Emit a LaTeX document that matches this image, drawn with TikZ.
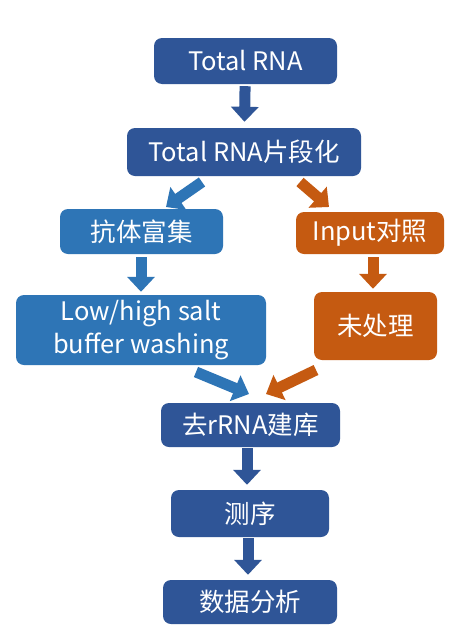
\documentclass[tikz,border=0pt]{standalone}
\usepackage{fontspec}
\setmainfont{Noto Sans CJK SC}
\usetikzlibrary{arrows.meta}
\definecolor{stepdark}{HTML}{2F5597}
\definecolor{steplight}{HTML}{2E75B6}
\definecolor{steporange}{HTML}{C55A11}
\tikzset{box/.style={rectangle,rounded corners=8pt,inner sep=0pt,text=white,
    font=\fontsize{25.5}{33}\selectfont,align=center},
  flow/.style={-{Triangle[length=15pt,width=27pt]},line width=11pt}}
\begin{document}
\begin{tikzpicture}[x=1pt,y=-1pt]
  \path[use as bounding box,fill=white] (0,0) rectangle (457,632);
  \node[box,fill=stepdark,minimum width=183pt,minimum height=46pt] (total) at (245.5,61) {Total RNA};
  \node[box,fill=stepdark,minimum width=234pt,minimum height=48pt] (frag) at (244,152) {Total RNA片段化};
  \node[box,fill=steplight,minimum width=163pt,minimum height=45pt] (enrich) at (141.5,231.5) {抗体富集};
  \node[box,fill=steporange,minimum width=148pt,minimum height=42pt] (input) at (370,233) {Input对照};
  \node[box,fill=steplight,minimum width=250pt,minimum height=70pt] (wash) at (141,330) {Low/high salt\\buffer washing};
  \node[box,fill=steporange,minimum width=123pt,minimum height=68pt] (untreated) at (375.5,326) {未处理};
  \node[box,fill=stepdark,minimum width=179pt,minimum height=44pt] (lib) at (250.5,425) {去rRNA建库};
  \node[box,fill=stepdark,minimum width=158pt,minimum height=47pt] (seq) at (250,513.5) {测序};
  \node[box,fill=stepdark,minimum width=174pt,minimum height=44pt] (analysis) at (250,602) {数据分析};
  % diagonal arrow ends
  \coordinate (fragl) at (202,182);
  \coordinate (fragr) at (300,182);
  \coordinate (enrichtip) at (166,207);
  \coordinate (inputtip) at (329,207);
  \coordinate (washout) at (196,372);
  \coordinate (untrout) at (316,370);
  \coordinate (libl) at (249,394);
  \coordinate (libr) at (266,394);
  \draw[flow,stepdark,shorten <=2pt,shorten >=6pt] (total) -- (frag);
  \draw[flow,steplight] (fragl) -- (enrichtip);
  \draw[flow,steporange] (fragr) -- (inputtip);
  \draw[flow,steplight,shorten <=3pt,shorten >=3pt] (enrich.south -| 141,0) -- (wash.north -| 141,0);
  \draw[flow,steporange,shorten <=3pt,shorten >=3pt] (input.south -| 373,0) -- (untreated.north -| 373,0);
  \draw[flow,steplight] (washout) -- (libl);
  \draw[flow,steporange] (untrout) -- (libr);
  \draw[flow,stepdark,shorten <=1pt,shorten >=5pt] (lib.south -| 247,0) -- (seq.north -| 247,0);
  \draw[flow,stepdark,shorten <=1pt,shorten >=5pt] (seq.south -| 248,0) -- (analysis.north -| 248,0);
\end{tikzpicture}
\end{document}
